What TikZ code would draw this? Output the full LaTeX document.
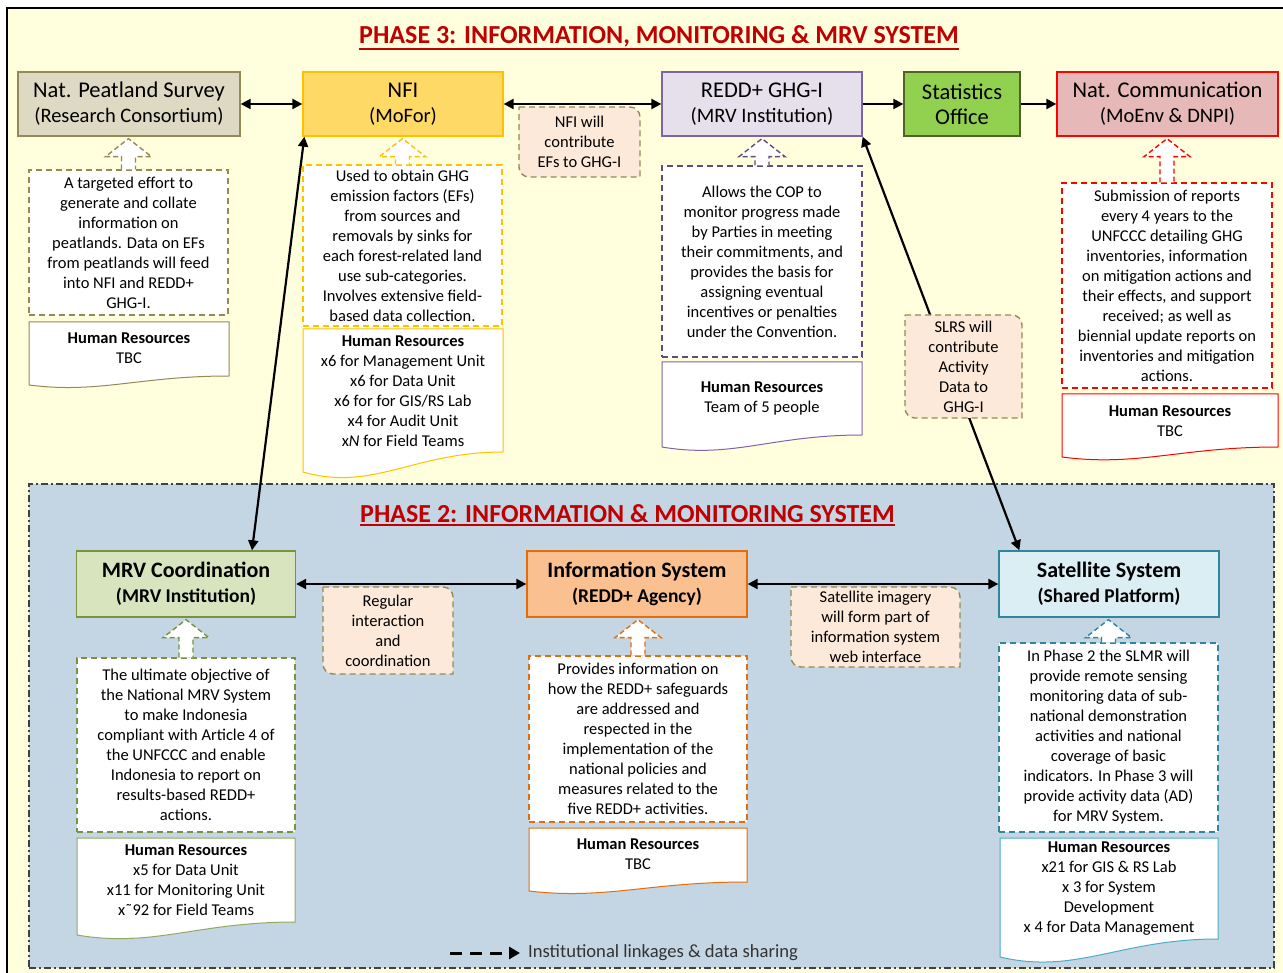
\documentclass[tikz,border=0pt]{standalone}
\usepackage{fontspec}
\setmainfont{Carlito}
\usetikzlibrary{arrows.meta,calc}
\definecolor{bgthree}{HTML}{FFFFDD}
\definecolor{bgtwo}{HTML}{C4D5E3}
\definecolor{redT}{HTML}{C00000}
\definecolor{peatF}{HTML}{DDD9C3}\definecolor{peatD}{HTML}{948A54}
\definecolor{nfiF}{HTML}{FFD966}\definecolor{nfiD}{HTML}{FFC000}
\definecolor{ghgF}{HTML}{E5E0EC}\definecolor{ghgD}{HTML}{8064A2}\definecolor{ghgDD}{HTML}{604A7B}
\definecolor{statF}{HTML}{92D050}\definecolor{statD}{HTML}{4F6228}
\definecolor{ncF}{HTML}{E6B9B8}\definecolor{ncD}{HTML}{FF0000}
\definecolor{mrvF}{HTML}{D7E4BD}\definecolor{mrvD}{HTML}{77933C}
\definecolor{infF}{HTML}{FAC090}\definecolor{infD}{HTML}{E46C0A}
\definecolor{satF}{HTML}{DBEEF4}\definecolor{satD}{HTML}{31859C}\definecolor{satL}{HTML}{4BACC6}
\definecolor{lblF}{HTML}{FDE9D9}\definecolor{lblD}{HTML}{948A54}
\newcommand\subtop{\fontsize{20.5}{25}\selectfont}
\newcommand\subbot{\fontsize{19.5}{25}\selectfont\bfseries}
\tikzset{
 tbox/.style={draw, line width=1.3pt, inner sep=0pt, align=center, font=\fontsize{22.5}{25}\selectfont},
 pbox/.style={draw, line width=1.3pt, inner sep=0pt, align=center, font=\fontsize{22}{25}\selectfont\bfseries},
 dbox/.style={draw, fill=white, line width=1.4pt, dash pattern=on 6pt off 4pt, inner sep=0pt, align=center, font=\fontsize{16.5}{20}\selectfont},
 lbox/.style={draw=lblD, fill=lblF, line width=1.4pt, dash pattern=on 6pt off 4pt},
 ltext/.style={inner sep=0pt, align=center, font=\fontsize{16.5}{20}\selectfont},
 hrtext/.style={inner sep=0pt, align=center, font=\fontsize{16.5}{20}\selectfont},
 link/.style={line width=2.2pt, {Triangle[length=10pt,width=10pt]}-{Triangle[length=10pt,width=10pt]}},
 linkr/.style={line width=2.2pt, -{Triangle[length=10pt,width=10pt]}},
 barrow/.style={line width=1.4pt, dash pattern=on 5pt off 3pt, fill=white},
 ptitle/.style={inner sep=0pt, text=redT, font=\fontsize{26}{30}\selectfont\bfseries},
}
% block up-arrow from a description box to its title box
\newcommand\blockup[3]{%
 \draw[#3, barrow] let \p1=(#1.north), \p2=(#2.south) in
 (\x1-7pt,\y1) -- (\x1-7pt,\y2-20pt) -- (\x1-23pt,\y2-20pt) -- (\x1,\y2-2pt)
 -- (\x1+23pt,\y2-20pt) -- (\x1+7pt,\y2-20pt) -- (\x1+7pt,\y1);}
% human resources document shape
\newcommand\hrdoc[9]{%
 \draw[#7, line width=1pt, fill=white] (#2,#3) -- (#4,#3) -- (#4,#6)
 .. controls ({#4-0.45*(#4-#2)},#6) and ({#2+0.35*(#4-#2)},{#5+(#5-#6)}) .. (#2,#5) -- cycle;
 \node[hrtext] (#1) at ({(#2+#4)/2},#8) {#9};}
% label with rounded diagonal corners
\newcommand\lbl[6]{%
 \draw[lbox] ({#2-#4/2},{#3-#5/2}) -- ({#2+#4/2-10},{#3-#5/2}) arc[start angle=90,end angle=0,radius=10pt]
 -- ({#2+#4/2},{#3+#5/2}) -- ({#2-#4/2+10},{#3+#5/2}) arc[start angle=270,end angle=180,radius=10pt] -- cycle;
 \node[ltext] (#1) at (#2,#3) {#6};}
\begin{document}
\begin{tikzpicture}[x=1pt,y=-1pt]
\useasboundingbox (0,0) rectangle (1283,973);
\fill[white] (0,0) rectangle (1283,973);
\draw[line width=1.5pt, fill=bgthree] (7,8) rectangle (1300,995);

% Phase 3 title
\node[ptitle] (pthree) at (659,36) {PHASE 3: INFORMATION, MONITORING \& MRV SYSTEM};
\draw[redT, line width=2pt] ([yshift=-2pt]pthree.south west) -- ([yshift=-2pt]pthree.south east);

% Phase 2 container
\node[draw=black!75, fill=bgtwo, line width=1.3pt, dash pattern=on 7pt off 3pt on 2pt off 3pt,
      minimum width=1245pt, minimum height=484pt, inner sep=0pt] (phasetwo) at (651.5,726) {};
\node[ptitle] (ptwo) at (627.5,514) {PHASE 2: INFORMATION \& MONITORING SYSTEM};
\draw[redT, line width=2pt] ([yshift=-2pt]ptwo.south west) -- ([yshift=-2pt]ptwo.south east);

% top row
\node[tbox, draw=peatD, fill=peatF, minimum width=222pt, minimum height=64pt] (peat) at (129,104) {Nat. Peatland Survey\\\subtop (Research Consortium)};
\node[tbox, draw=nfiD, fill=nfiF, minimum width=200pt, minimum height=64pt] (nfi) at (403,104) {NFI\\\subtop (MoFor)};
\node[tbox, draw=ghgD, fill=ghgF, minimum width=200pt, minimum height=64pt] (ghg) at (762,104) {REDD+ GHG-I\\\subtop (MRV Institution)};
\node[tbox, draw=statD, fill=statF, minimum width=116pt, minimum height=64pt] (stats) at (962,104) {Statistics\\Office};
\node[tbox, draw=ncD, fill=ncF, minimum width=221pt, minimum height=64pt] (natcom) at (1167.5,104) {Nat. Communication\\\subtop (MoEnv \& DNPI)};

% phase 2 row
\node[pbox, draw=mrvD, fill=mrvF, minimum width=219pt, minimum height=66pt] (mrv) at (186,584) {MRV Coordination\\\subbot (MRV Institution)};
\node[pbox, draw=infD, fill=infF, minimum width=220pt, minimum height=66pt] (info) at (637,584) {Information System\\\subbot (REDD+ Agency)};
\node[pbox, draw=satD, fill=satF, minimum width=220pt, minimum height=66pt] (sat) at (1109,584) {Satellite System\\\subbot (Shared Platform)};

% connectors
\draw[link] (peat.east) -- (nfi.west);
\draw[link] (nfi.east) -- (ghg.west);
\draw[linkr] (ghg.east) -- (stats.west);
\draw[linkr] (stats.east) -- (natcom.west);
\draw[link] (mrv.east) -- (info.west);
\draw[link] (info.east) -- (sat.west);
\draw[link] ([xshift=2pt]nfi.south west) -- ([xshift=66pt]mrv.north);
\draw[link] (ghg.south east) -- ([xshift=21pt]sat.north west);

% labels
\lbl{nfilbl}{579.5}{142}{121}{70}{NFI will\\contribute\\EFs to GHG-I}
\lbl{slrslbl}{963.5}{366.5}{117}{103}{SLRS will\\contribute\\Activity\\Data to\\GHG-I}
\lbl{reglbl}{388}{630.5}{130}{87}{Regular\\interaction\\and\\coordination}
\lbl{satlbl}{875.5}{627}{169}{80}{Satellite imagery\\will form part of\\information system\\web interface}

% description boxes
\node[dbox, draw=peatD, minimum width=199pt, minimum height=145pt] (peatdesc) at (128.5,242.5) {A targeted effort to\\generate and collate\\information on\\peatlands. Data on EFs\\from peatlands will feed\\into NFI and REDD+\\GHG-I.};
\node[dbox, draw=nfiD, minimum width=199pt, minimum height=161pt] (nfidesc) at (402.5,245.5) {Used to obtain GHG\\emission factors (EFs)\\from sources and\\removals by sinks for\\each forest-related land\\use sub-categories.\\Involves extensive field-\\based data collection.};
\node[dbox, draw=ghgDD, minimum width=200pt, minimum height=191pt] (ghgdesc) at (762,261.5) {Allows the COP to\\monitor progress made\\by Parties in meeting\\their commitments, and\\provides the basis for\\assigning eventual\\incentives or penalties\\under the Convention.};
\node[dbox, draw=ncD, minimum width=210pt, minimum height=205pt] (ncdesc) at (1167,285.5) {Submission of reports\\every 4 years to the\\UNFCCC detailing GHG\\inventories, information\\on mitigation actions and\\their effects, and support\\received; as well as\\biennial update reports on\\inventories and mitigation\\actions.};
\node[dbox, draw=mrvD, minimum width=218pt, minimum height=174pt] (mrvdesc) at (186,745) {The ultimate objective of\\the National MRV System\\to make Indonesia\\compliant with Article 4 of\\the UNFCCC and enable\\Indonesia to report on\\results-based REDD+\\actions.};
\node[dbox, draw=infD, minimum width=218pt, minimum height=166pt] (infodesc) at (638,739) {Provides information on\\how the REDD+ safeguards\\are addressed and\\respected in the\\implementation of the\\national policies and\\measures related to the\\five REDD+ activities.};
\node[dbox, draw=satD, minimum width=219pt, minimum height=189pt] (satdesc) at (1108.5,737.5) {In Phase 2 the SLMR will\\provide remote sensing\\monitoring data of sub-\\national demonstration\\activities and national\\coverage of basic\\indicators. In Phase 3 will\\provide activity data (AD)\\for MRV System.};

% block arrows
\blockup{peatdesc}{peat}{peatD}
\blockup{nfidesc}{nfi}{nfiD}
\blockup{ghgdesc}{ghg}{ghgDD}
\blockup{ncdesc}{natcom}{ncD}
\blockup{mrvdesc}{mrv}{mrvD}
\blockup{infodesc}{info}{infD}
\blockup{satdesc}{sat}{satD}

% human resources
\hrdoc{peathr}{29}{322}{229}{385}{376}{peatD}{348}{\textbf{Human Resources}\\TBC}
\hrdoc{nfihr}{303}{329}{503}{472}{452}{nfiD}{391}{\textbf{Human Resources}\\x6 for Management Unit\\x6 for Data Unit\\x6 for for GIS/RS Lab\\x4 for Audit Unit\\x\textit{N} for Field Teams}
\hrdoc{ghghr}{662}{362}{862}{447}{435}{ghgD}{398}{\textbf{Human Resources}\\Team of 5 people}
\hrdoc{nchr}{1062}{394}{1278}{457}{447}{ncD}{421}{\textbf{Human Resources}\\TBC}
\hrdoc{mrvhr}{77}{838}{295}{935}{922}{mrvD!80}{880}{\textbf{Human Resources}\\x5 for Data Unit\\x11 for Monitoring Unit\\x˜92 for Field Teams}
\hrdoc{infohr}{529}{828}{747}{891}{882}{infD}{854}{\textbf{Human Resources}\\TBC}
\hrdoc{sathr}{1000}{838}{1218}{957}{939}{satL}{889}{\textbf{Human Resources}\\x21 for GIS \& RS Lab\\x 3 for System\\Development\\x 4 for Data Management}

% legend
\coordinate (lega) at (450,953);
\node[anchor=west, inner sep=0pt, text=black!80, font=\fontsize{18.6}{22}\selectfont] (legtxt) at (528,953) {Institutional linkages \& data sharing};
\draw[line width=3pt, dash pattern=on 12pt off 8pt, -{Triangle[length=11pt,width=12pt]}] (lega) -- ([xshift=-8pt]legtxt.west);
\end{tikzpicture}
\end{document}
